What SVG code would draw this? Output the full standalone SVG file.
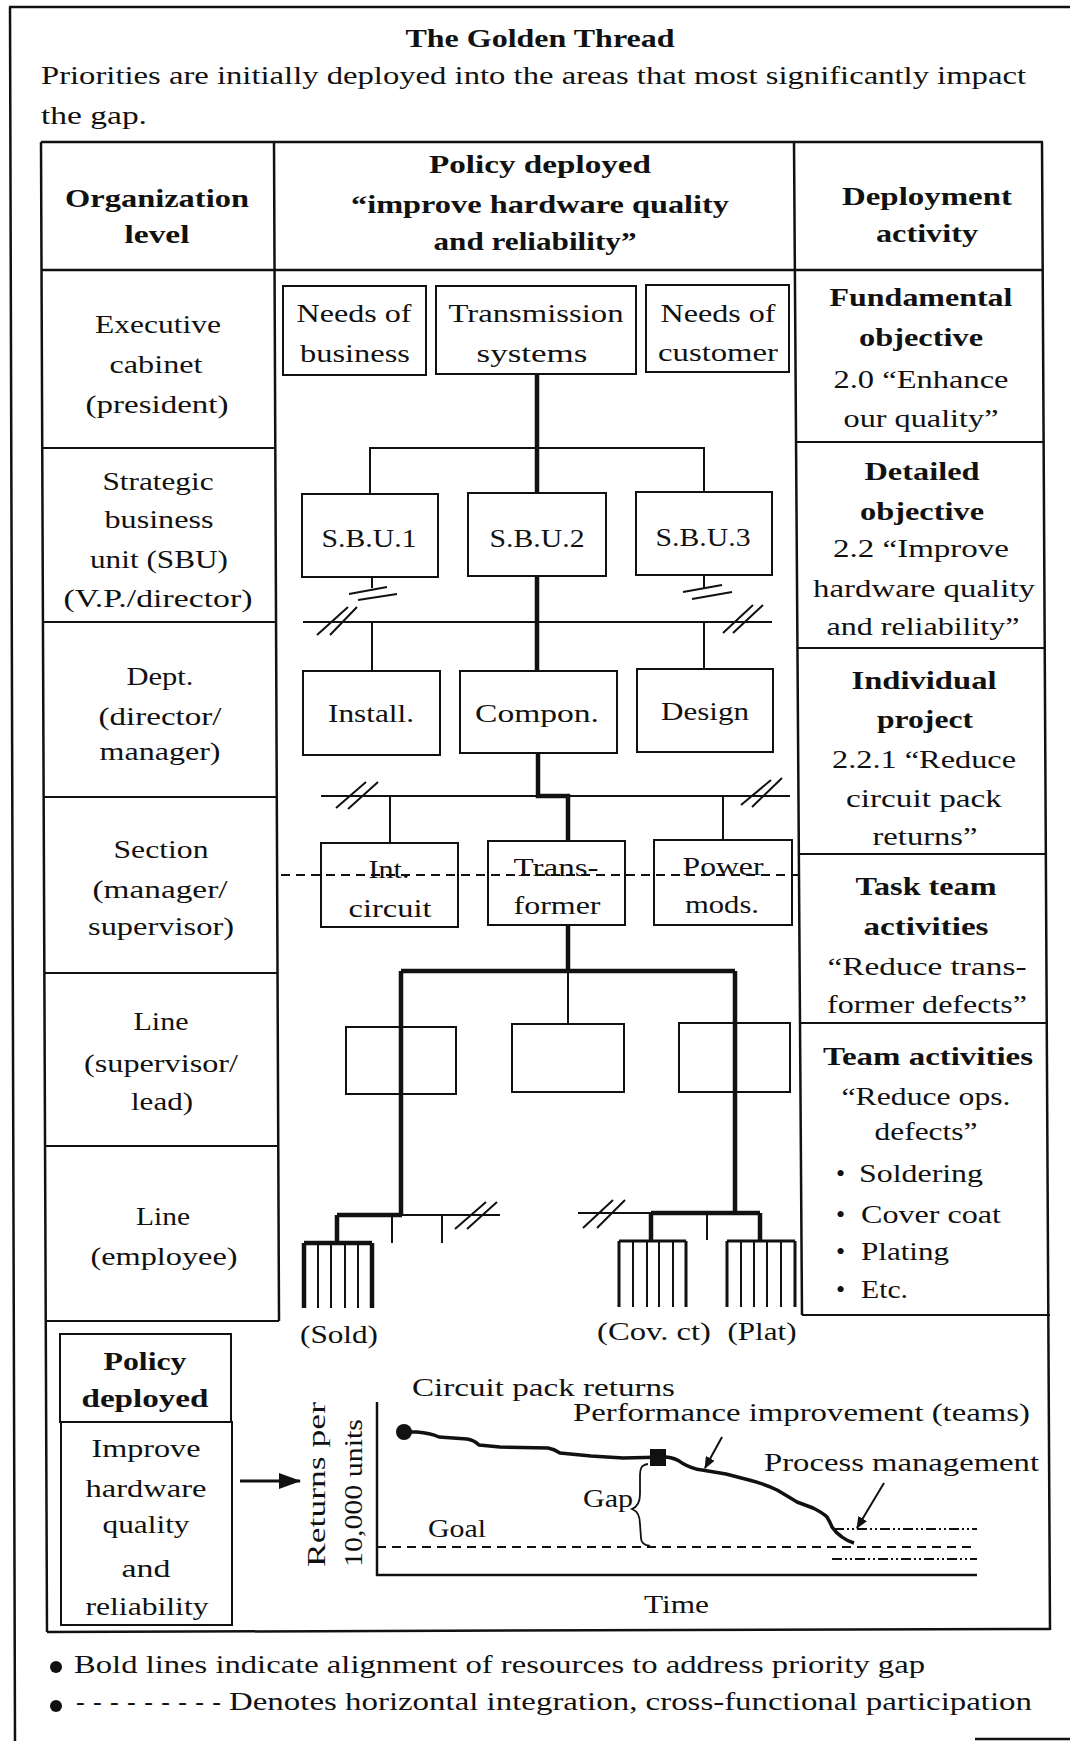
<svg xmlns="http://www.w3.org/2000/svg" width="1070" height="1741" viewBox="0 0 1070 1741">
<defs>
<style>
.t{font-family:"Liberation Serif","Times New Roman",serif;font-size:26px;fill:#111}
.c{text-anchor:middle}
.b{font-weight:bold}
.box{fill:none;stroke:#111;stroke-width:2}
.ln{fill:none;stroke:#111;stroke-width:2}
.tk{fill:none;stroke:#111;stroke-width:4.5}
.md{fill:none;stroke:#111;stroke-width:3}
.dash{fill:none;stroke:#111;stroke-width:2;stroke-dasharray:9 6}
.dd{fill:none;stroke:#111;stroke-width:2;stroke-dasharray:10 3 2 3 2 3}
.frame{fill:none;stroke:#111;stroke-width:2.5}
</style>
<marker id="ah" viewBox="0 0 12 10" refX="11" refY="5" markerWidth="12" markerHeight="10" orient="auto" markerUnits="userSpaceOnUse"><path d="M0,0 L12,5 L0,10 z" fill="#111"/></marker>
<marker id="ahL" viewBox="0 0 22 16" refX="21" refY="8" markerWidth="22" markerHeight="16" orient="auto" markerUnits="userSpaceOnUse"><path d="M0,0 L22,8 L0,16 z" fill="#111"/></marker>
</defs>
<rect width="1070" height="1741" fill="#fff"/>

<g id="frame">
<path class="frame" d="M9,7 H1070 M10,7 L15,1741 M975,1739 H1070"/>
</g>

<g id="title">
<text class="t c b" x="540" y="47" font-size="28" textLength="269" lengthAdjust="spacingAndGlyphs">The Golden Thread</text>
<text class="t" x="41" y="84" textLength="985" lengthAdjust="spacingAndGlyphs">Priorities are initially deployed into the areas that most significantly impact</text>
<text class="t" x="41" y="124" textLength="106" lengthAdjust="spacingAndGlyphs">the gap.</text>
</g>

<g id="table">
<path class="frame" d="M41,142 H1043 M41,270 H1043 M41,142 L47,1632 M274,142 L279,1321 M794,142 L802,1315 M1042,142 L1050,1630 M47,1632 L1050,1629"/>
<path class="ln" d="M42,448 H275 M43,622 H276 M44,797 H277 M45,973 H278 M45,1146 H278 M46,1321 H279"/>
<path class="ln" d="M796,442 H1044 M798,648 H1046 M799,854 H1047 M800,1023 H1048 M802,1315 H1050"/>
</g>

<g id="header-org">
<text class="t c b" x="157" y="207" textLength="184" lengthAdjust="spacingAndGlyphs">Organization</text>
<text class="t c b" x="157" y="243" textLength="65" lengthAdjust="spacingAndGlyphs">level</text>
</g>
<g id="header-policy">
<text class="t c b" x="540" y="173" textLength="222" lengthAdjust="spacingAndGlyphs">Policy deployed</text>
<text class="t c b" x="540" y="213" textLength="378" lengthAdjust="spacingAndGlyphs">“improve hardware quality</text>
<text class="t c b" x="535" y="250" textLength="203" lengthAdjust="spacingAndGlyphs">and reliability”</text>
</g>
<g id="header-deploy">
<text class="t c b" x="927" y="205" textLength="170" lengthAdjust="spacingAndGlyphs">Deployment</text>
<text class="t c b" x="927" y="242" textLength="102" lengthAdjust="spacingAndGlyphs">activity</text>
</g>

<g id="lvl-executive">
<text class="t c" x="158" y="333" textLength="126" lengthAdjust="spacingAndGlyphs">Executive</text>
<text class="t c" x="156" y="373" textLength="93" lengthAdjust="spacingAndGlyphs">cabinet</text>
<text class="t c" x="157" y="413" textLength="143" lengthAdjust="spacingAndGlyphs">(president)</text>
</g>
<g id="lvl-sbu">
<text class="t c" x="158" y="490" textLength="111" lengthAdjust="spacingAndGlyphs">Strategic</text>
<text class="t c" x="159" y="528" textLength="109" lengthAdjust="spacingAndGlyphs">business</text>
<text class="t c" x="159" y="568" textLength="138" lengthAdjust="spacingAndGlyphs">unit (SBU)</text>
<text class="t c" x="158" y="607" textLength="189" lengthAdjust="spacingAndGlyphs">(V.P./director)</text>
</g>
<g id="lvl-dept">
<text class="t c" x="160" y="685" textLength="67" lengthAdjust="spacingAndGlyphs">Dept.</text>
<text class="t c" x="160" y="725" textLength="123" lengthAdjust="spacingAndGlyphs">(director/</text>
<text class="t c" x="160" y="760" textLength="121" lengthAdjust="spacingAndGlyphs">manager)</text>
</g>
<g id="lvl-section">
<text class="t c" x="161" y="858" textLength="95" lengthAdjust="spacingAndGlyphs">Section</text>
<text class="t c" x="160" y="898" textLength="135" lengthAdjust="spacingAndGlyphs">(manager/</text>
<text class="t c" x="161" y="935" textLength="146" lengthAdjust="spacingAndGlyphs">supervisor)</text>
</g>
<g id="lvl-line-sup">
<text class="t c" x="161" y="1030" textLength="55" lengthAdjust="spacingAndGlyphs">Line</text>
<text class="t c" x="161" y="1072" textLength="154" lengthAdjust="spacingAndGlyphs">(supervisor/</text>
<text class="t c" x="162" y="1110" textLength="62" lengthAdjust="spacingAndGlyphs">lead)</text>
</g>
<g id="lvl-line-emp">
<text class="t c" x="163" y="1225" textLength="54" lengthAdjust="spacingAndGlyphs">Line</text>
<text class="t c" x="164" y="1265" textLength="147" lengthAdjust="spacingAndGlyphs">(employee)</text>
</g>

<g id="act-fundamental">
<text class="t c b" x="921" y="306" textLength="183" lengthAdjust="spacingAndGlyphs">Fundamental</text>
<text class="t c b" x="921" y="346" textLength="124" lengthAdjust="spacingAndGlyphs">objective</text>
<text class="t c" x="921" y="388" textLength="175" lengthAdjust="spacingAndGlyphs">2.0 “Enhance</text>
<text class="t c" x="921" y="427" textLength="155" lengthAdjust="spacingAndGlyphs">our quality”</text>
</g>
<g id="act-detailed">
<text class="t c b" x="922" y="480" textLength="115" lengthAdjust="spacingAndGlyphs">Detailed</text>
<text class="t c b" x="922" y="520" textLength="124" lengthAdjust="spacingAndGlyphs">objective</text>
<text class="t c" x="921" y="557" textLength="176" lengthAdjust="spacingAndGlyphs">2.2 “Improve</text>
<text class="t c" x="924" y="597" textLength="222" lengthAdjust="spacingAndGlyphs">hardware quality</text>
<text class="t c" x="923" y="635" textLength="193" lengthAdjust="spacingAndGlyphs">and reliability”</text>
</g>
<g id="act-individual">
<text class="t c b" x="924" y="689" textLength="145" lengthAdjust="spacingAndGlyphs">Individual</text>
<text class="t c b" x="925" y="728" textLength="96" lengthAdjust="spacingAndGlyphs">project</text>
<text class="t c" x="924" y="768" textLength="184" lengthAdjust="spacingAndGlyphs">2.2.1 “Reduce</text>
<text class="t c" x="924" y="807" textLength="156" lengthAdjust="spacingAndGlyphs">circuit pack</text>
<text class="t c" x="925" y="845" textLength="105" lengthAdjust="spacingAndGlyphs">returns”</text>
</g>
<g id="act-taskteam">
<text class="t c b" x="926" y="895" textLength="141" lengthAdjust="spacingAndGlyphs">Task team</text>
<text class="t c b" x="926" y="935" textLength="125" lengthAdjust="spacingAndGlyphs">activities</text>
<text class="t c" x="927" y="975" textLength="199" lengthAdjust="spacingAndGlyphs">“Reduce trans-</text>
<text class="t c" x="927" y="1013" textLength="200" lengthAdjust="spacingAndGlyphs">former defects”</text>
</g>
<g id="act-team">
<text class="t c b" x="928" y="1065" textLength="210" lengthAdjust="spacingAndGlyphs">Team activities</text>
<text class="t c" x="926" y="1105" textLength="169" lengthAdjust="spacingAndGlyphs">“Reduce ops.</text>
<text class="t c" x="926" y="1140" textLength="103" lengthAdjust="spacingAndGlyphs">defects”</text>
<text class="t" y="1182"><tspan x="836">• </tspan><tspan x="859" textLength="124" lengthAdjust="spacingAndGlyphs">Soldering</tspan></text>
<text class="t" y="1223"><tspan x="836">• </tspan><tspan x="861" textLength="140" lengthAdjust="spacingAndGlyphs">Cover coat</tspan></text>
<text class="t" y="1260"><tspan x="836">• </tspan><tspan x="861" textLength="88" lengthAdjust="spacingAndGlyphs">Plating</tspan></text>
<text class="t" y="1298"><tspan x="836">• </tspan><tspan x="861" textLength="47" lengthAdjust="spacingAndGlyphs">Etc.</tspan></text>
</g>

<g id="connectors">
<path class="ln" d="M370,494 V448 H704 V492"/>
<path class="ln" d="M372,577 V588 M349,594 L387,587 M358,600 L397,594 M704,575 V588 M683,592 L722,585 M692,599 L732,592"/>
<path class="ln" d="M303,622 H772 M372,622 V671 M704,622 V669 M317,635 L348,607 M330,635 L357,607 M723,633 L753,605 M733,633 L763,605"/>
<path class="ln" d="M321,796 H790 M390,796 V843 M723,796 V840 M336,808 L366,782 M348,809 L378,782 M741,805 L771,780 M752,807 L782,778"/>
<path class="dash" d="M281,875 H799"/>
<path class="ln" d="M568,971 V1024"/>
<path class="ln" d="M402,1215 H500 M392,1215 V1243 M442,1215 V1243 M455,1229 L486,1202 M467,1229 L497,1202"/>
<path class="ln" d="M578,1213 H651 M707,1213 V1240 M583,1228 L613,1200 M597,1228 L625,1200"/>
<path class="ln" d="M318,1243 V1308 M331,1243 V1308 M345,1243 V1308 M358,1243 V1308"/>
<path class="ln" d="M633,1241 V1307 M647,1241 V1307 M659,1241 V1307 M673,1241 V1307 M741,1241 V1307 M754,1241 V1307 M767,1241 V1307 M781,1241 V1307"/>
<path class="md" d="M619,1241 H686 M619,1241 V1307 M686,1241 V1307 M727,1241 H795 M727,1241 V1307 M795,1241 V1307"/>
<path class="tk" d="M537,374 V493 M537,576 V671 M538,753 V796 H568 V841 M568,925 V971 M401,971 H735 M401,971 V1215 M735,971 V1213"/>
<path class="tk" d="M337,1215 H402 M337,1215 V1243 M304,1243 H372 M304,1243 V1308 M372,1243 V1308"/>
<path class="tk" d="M651,1213 H760 M651,1213 V1241 M760,1213 V1241"/>
</g>

<g id="node-needs-business"><rect class="box" x="283" y="286" width="143" height="89"/>
<text class="t c" x="354" y="322" textLength="115" lengthAdjust="spacingAndGlyphs">Needs of</text>
<text class="t c" x="355" y="362" textLength="110" lengthAdjust="spacingAndGlyphs">business</text></g>
<g id="node-transmission"><rect class="box" x="436" y="286" width="200" height="88"/>
<text class="t c" x="536" y="322" textLength="175" lengthAdjust="spacingAndGlyphs">Transmission</text>
<text class="t c" x="532" y="362" textLength="111" lengthAdjust="spacingAndGlyphs">systems</text></g>
<g id="node-needs-customer"><rect class="box" x="646" y="285" width="143" height="87"/>
<text class="t c" x="718" y="322" textLength="115" lengthAdjust="spacingAndGlyphs">Needs of</text>
<text class="t c" x="718" y="361" textLength="120" lengthAdjust="spacingAndGlyphs">customer</text></g>
<g id="node-sbu1"><rect class="box" x="302" y="494" width="136" height="83"/>
<text class="t c" x="369" y="547" textLength="95" lengthAdjust="spacingAndGlyphs">S.B.U.1</text></g>
<g id="node-sbu2"><rect class="box" x="468" y="493" width="138" height="83"/>
<text class="t c" x="537" y="547" textLength="95" lengthAdjust="spacingAndGlyphs">S.B.U.2</text></g>
<g id="node-sbu3"><rect class="box" x="636" y="492" width="136" height="83"/>
<text class="t c" x="703" y="546" textLength="95" lengthAdjust="spacingAndGlyphs">S.B.U.3</text></g>
<g id="node-install"><rect class="box" x="303" y="671" width="137" height="84"/>
<text class="t c" x="371" y="722" textLength="86" lengthAdjust="spacingAndGlyphs">Install.</text></g>
<g id="node-compon"><rect class="box" x="460" y="671" width="157" height="82"/>
<text class="t c" x="537" y="722" textLength="124" lengthAdjust="spacingAndGlyphs">Compon.</text></g>
<g id="node-design"><rect class="box" x="637" y="669" width="136" height="83"/>
<text class="t c" x="705" y="720" textLength="88" lengthAdjust="spacingAndGlyphs">Design</text></g>
<g id="node-int-circuit"><rect class="box" x="321" y="843" width="137" height="84"/>
<text class="t c" x="389" y="878" textLength="41" lengthAdjust="spacingAndGlyphs">Int.</text>
<text class="t c" x="390" y="917" textLength="83" lengthAdjust="spacingAndGlyphs">circuit</text></g>
<g id="node-transformer"><rect class="box" x="488" y="841" width="137" height="84"/>
<text class="t c" x="556" y="876" textLength="85" lengthAdjust="spacingAndGlyphs">Trans-</text>
<text class="t c" x="557" y="914" textLength="87" lengthAdjust="spacingAndGlyphs">former</text></g>
<g id="node-power-mods"><rect class="box" x="654" y="840" width="138" height="85"/>
<text class="t c" x="723" y="875" textLength="81" lengthAdjust="spacingAndGlyphs">Power</text>
<text class="t c" x="722" y="913" textLength="74" lengthAdjust="spacingAndGlyphs">mods.</text></g>
<g id="node-line1"><rect class="box" x="346" y="1027" width="110" height="67"/></g>
<g id="node-line2"><rect class="box" x="512" y="1024" width="112" height="68"/></g>
<g id="node-line3"><rect class="box" x="679" y="1023" width="111" height="69"/></g>
<g id="label-sold"><text class="t c" x="339" y="1343" textLength="78" lengthAdjust="spacingAndGlyphs">(Sold)</text></g>
<g id="label-covct"><text class="t c" x="654" y="1340" textLength="114" lengthAdjust="spacingAndGlyphs">(Cov. ct)</text></g>
<g id="label-plat"><text class="t c" x="762" y="1340" textLength="69" lengthAdjust="spacingAndGlyphs">(Plat)</text></g>

<g id="policy-box">
<rect class="box" x="60" y="1334" width="171" height="88"/>
<rect class="box" x="61" y="1422" width="171" height="203"/>
<text class="t c b" x="145" y="1370" textLength="83" lengthAdjust="spacingAndGlyphs">Policy</text>
<text class="t c b" x="145" y="1407" textLength="127" lengthAdjust="spacingAndGlyphs">deployed</text>
<text class="t c" x="146" y="1457" textLength="109" lengthAdjust="spacingAndGlyphs">Improve</text>
<text class="t c" x="146" y="1497" textLength="121" lengthAdjust="spacingAndGlyphs">hardware</text>
<text class="t c" x="146" y="1533" textLength="87" lengthAdjust="spacingAndGlyphs">quality</text>
<text class="t c" x="146" y="1577" textLength="49" lengthAdjust="spacingAndGlyphs">and</text>
<text class="t c" x="147" y="1615" textLength="123" lengthAdjust="spacingAndGlyphs">reliability</text>
</g>
<g id="policy-arrow"><path class="md" d="M240,1481 H300" marker-end="url(#ahL)"/></g>

<g id="chart">
<path class="frame" d="M377,1402 V1575 H977"/>
<path class="dash" d="M377,1547 H977"/>
<path class="dd" d="M834,1529 H977 M832,1559 H977"/>
<path fill="none" stroke="#111" stroke-width="3.5" stroke-linejoin="round" d="M404,1432 L417,1432 Q430,1433 439,1437 L467,1439 Q474,1440 479,1445 L500,1447 L548,1448 Q554,1449 560,1453 L591,1456 L623,1458 L666,1457 Q676,1458 682,1463 Q692,1469 702,1470 L726,1474 L749,1480 Q765,1484 777,1490 Q789,1497 797,1502 L813,1508 Q823,1513 827,1517 Q830,1522 832,1527 Q836,1533 842,1537 Q847,1541 854,1543"/>
<circle cx="404" cy="1432" r="8" fill="#111"/>
<rect x="650" y="1449" width="16" height="17" fill="#111"/>
<path fill="none" stroke="#111" stroke-width="1.8" d="M648,1464 C641,1465 640,1469 640,1475 L640,1494 C640,1503 637,1507 632,1509 C637,1511 640,1515 640,1524 L641,1538 C641,1543 644,1545 650,1546"/>
<path class="ln" d="M722,1437 L705,1468" marker-end="url(#ah)"/>
<path class="ln" d="M884,1483 L857,1528" marker-end="url(#ah)"/>
<text class="t" x="412" y="1396" textLength="263" lengthAdjust="spacingAndGlyphs">Circuit pack returns</text>
<text class="t" x="573" y="1421" textLength="457" lengthAdjust="spacingAndGlyphs">Performance improvement (teams)</text>
<text class="t" x="764" y="1471" textLength="275" lengthAdjust="spacingAndGlyphs">Process management</text>
<text class="t" x="583" y="1507" textLength="50" lengthAdjust="spacingAndGlyphs">Gap</text>
<text class="t" x="428" y="1537" textLength="58" lengthAdjust="spacingAndGlyphs">Goal</text>
<text class="t" x="644" y="1613" textLength="65" lengthAdjust="spacingAndGlyphs">Time</text>
<text class="t" transform="translate(325,1567) rotate(-90)" textLength="165" lengthAdjust="spacingAndGlyphs">Returns per</text>
<text class="t" transform="translate(362,1567) rotate(-90)" textLength="148" lengthAdjust="spacingAndGlyphs">10,000 units</text>
</g>

<g id="legend">
<circle cx="56" cy="1667" r="6" fill="#111"/>
<text class="t" x="74" y="1673" textLength="851" lengthAdjust="spacingAndGlyphs">Bold lines indicate alignment of resources to address priority gap</text>
<circle cx="56" cy="1706" r="6" fill="#111"/>
<text class="t" x="76" y="1710" textLength="145" lengthAdjust="spacing">---------</text>
<text class="t" x="229" y="1710" textLength="803" lengthAdjust="spacingAndGlyphs">Denotes horizontal integration, cross-functional participation</text>
</g>
</svg>
